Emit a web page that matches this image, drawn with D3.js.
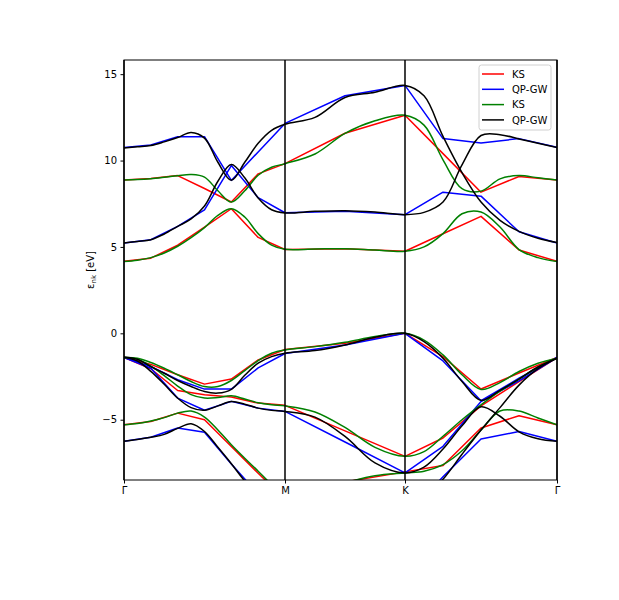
<!DOCTYPE html>
<html>
<head>
<meta charset="utf-8">
<script src="https://cdn.jsdelivr.net/npm/d3@7"></script>
<style>
  html, body { margin: 0; padding: 0; background: #fff; }
  svg { display: block; font-family: "DejaVu Sans", sans-serif; }
</style>
</head>
<body>
<svg id="chart" width="619" height="600"></svg>
<script>
// ---- k-path (Γ-M distance = 1) ----
const kCoarse = [0, 0.1667, 0.3333, 0.5, 0.6667, 0.8333, 1.0, 1.3727, 1.7453, 1.9814, 2.2174, 2.4535, 2.6894];
const kFine = [0, 0.0833, 0.1667, 0.25, 0.3333, 0.4167, 0.5, 0.5833, 0.6667, 0.75, 0.8333, 0.9167, 1.0,
               1.1863, 1.3727, 1.559, 1.7453, 1.8634, 1.9814, 2.0994, 2.2174, 2.3354, 2.4535, 2.5714, 2.6894];
const kLabels = ["Γ", "M", "K", "Γ"];
const kLabelPos = [0, 1.0, 1.7453, 2.6894];
const yTicks = [-5, 0, 5, 10, 15];

// ---- KS (coarse, red) ----
const ksC2 = [8.88, 8.96, 9.13, 8.38, 7.6, 9.23, 9.82, 11.58, 12.62, 10.4, 8.17, 9.08, 8.88];
const ksC1 = [4.17, 4.35, 5.1, 6.15, 7.21, 5.55, 4.85, 4.9, 4.75, 5.76, 6.77, 4.82, 4.17];
const ksV1 = [-1.4, -1.8, -2.4, -2.94, -2.65, -1.54, -0.94, -0.58, 0, -1.35, -3.22, -2.3, -1.4];
const ksV2 = [-1.4, -2.05, -3.31, -3.56, -3.69, -4.04, -4.17, -5.65, -7.12, -6.06, -4.2, -2.8, -1.4];
const ksV3 = [-5.29, -5.1, -4.62, -5.0, -6.55, -8.1, -9.6, -8.6, -8.02, -7.65, -5.48, -4.77, -5.29];

// ---- QP-GW (coarse, blue) ----
const gwC2 = [10.75, 10.9, 11.38, 11.38, 8.85, 10.5, 12.15, 13.75, 14.35, 11.27, 11.02, 11.27, 10.77];
const gwC1 = [5.23, 5.42, 6.19, 7.15, 9.71, 7.85, 6.98, 7.06, 6.87, 8.17, 7.94, 5.88, 5.23];
const gwV1 = [-1.4, -1.92, -2.69, -3.23, -3.23, -2.0, -1.17, -0.67, 0, -1.6, -3.9, -2.6, -1.4];
const gwV2 = [-1.4, -2.02, -3.75, -4.45, -3.94, -4.33, -4.52, -6.29, -8.08, -6.54, -3.95, -2.75, -1.4];
const gwV3 = [-6.25, -6.02, -5.48, -5.73, -7.56, -9.3, -10.5, -10.8, -10.7, -8.3, -6.12, -5.68, -6.25];

// ---- KS (interpolated, green) ----
const ksiC2 = [8.88, 8.9, 8.95, 9.03, 9.12, 9.19, 9.04, 8.25, 7.6, 8.25, 9.15, 9.61, 9.82, 10.38, 11.57, 12.3, 12.62, 12.05, 10.04, 8.37, 8.23, 8.94, 9.13, 9.0, 8.87];
const ksiC1 = [4.15, 4.23, 4.38, 4.65, 5.04, 5.54, 6.12, 6.83, 7.21, 6.73, 5.77, 5.1, 4.86, 4.88, 4.9, 4.82, 4.75, 5.0, 5.77, 6.92, 7.02, 6.15, 4.85, 4.38, 4.15];
const ksiV1 = [-1.4, -1.44, -1.69, -2.02, -2.4, -2.79, -3.08, -3.08, -2.73, -2.16, -1.58, -1.15, -0.96, -0.77, -0.52, -0.19, 0, -0.39, -1.25, -2.4, -3.25, -2.85, -2.21, -1.73, -1.44];
const ksiV2 = [-1.4, -1.5, -1.9, -2.45, -3.05, -3.55, -3.75, -3.72, -3.62, -3.8, -4.02, -4.14, -4.2, -4.55, -5.45, -6.6, -7.12, -6.85, -5.96, -5.0, -4.14, -3.35, -2.65, -1.95, -1.44];
const ksiV3 = [-5.29, -5.22, -5.08, -4.88, -4.62, -4.5, -4.85, -5.6, -6.45, -7.23, -7.98, -8.75, -9.4, -9.1, -8.65, -8.25, -8.08, -7.98, -7.6, -6.8, -5.6, -4.5, -4.5, -4.9, -5.29];

// ---- QP-GW (interpolated, black) ----
const gwiC2 = [10.73, 10.8, 10.87, 11.08, 11.33, 11.63, 11.3, 9.9, 8.86, 9.9, 11.0, 11.75, 12.1, 12.5, 13.65, 13.95, 14.35, 13.75, 11.4, 9.3, 7.6, 6.54, 5.9, 5.5, 5.25];
const gwiC1 = [5.23, 5.32, 5.42, 5.75, 6.19, 6.62, 7.37, 8.8, 9.77, 9.0, 7.83, 7.15, 6.97, 7.06, 7.1, 7.02, 6.87, 7.0, 7.6, 9.75, 11.45, 11.5, 11.25, 11.0, 10.75];
const gwiV1 = [-1.38, -1.5, -1.93, -2.31, -2.73, -3.08, -3.37, -3.46, -3.24, -2.43, -1.73, -1.35, -1.15, -1.0, -0.67, -0.23, 0, -0.48, -1.44, -2.79, -3.88, -3.3, -2.65, -1.95, -1.44];
const gwiV2 = [-1.38, -1.6, -2.2, -2.95, -3.75, -4.3, -4.45, -4.2, -3.95, -4.1, -4.33, -4.46, -4.52, -4.85, -5.97, -7.5, -8.08, -7.75, -6.7, -5.35, -4.25, -4.8, -5.7, -6.1, -6.25];
const gwiV3 = [-6.25, -6.15, -6.02, -5.85, -5.5, -5.23, -5.68, -6.6, -7.55, -8.55, -9.4, -10.1, -10.5, -10.8, -11.0, -10.8, -10.5, -9.5, -8.45, -7.0, -5.6, -4.3, -3.0, -2.05, -1.44];

const seriesNames = ["KS", "QP-GW", "KS", "QP-GW"];
const seriesColors = ["#ff0000", "#0000ff", "#008000", "#000000"];

// ---- build series ----
const series = [
  { k: kCoarse, bands: [ksC2, ksC1, ksV1, ksV2, ksV3], smooth: false },
  { k: kCoarse, bands: [gwC2, gwC1, gwV1, gwV2, gwV3], smooth: false },
  { k: kFine,   bands: [ksiC2, ksiC1, ksiV1, ksiV2, ksiV3], smooth: true },
  { k: kFine,   bands: [gwiC2, gwiC1, gwiV1, gwiV2, gwiV3], smooth: true }
];

const svg = d3.select("#chart");
const pL = 124, pR = 557, pT = 60, pB = 480;

const x = d3.scaleLinear().domain([0, 2.6894]).range([pL, pR]);
const y = d3.scaleLinear().domain([-8.49, 15.82]).range([pB, pT]);

svg.append("defs").append("clipPath").attr("id", "plotclip")
  .append("rect").attr("x", pL).attr("y", pT).attr("width", pR - pL).attr("height", pB - pT);

const plot = svg.append("g").attr("clip-path", "url(#plotclip)");

series.forEach((s, si) => {
  const line = d3.line()
    .x((d, i) => x(s.k[i]))
    .y(d => y(d))
    .curve(s.smooth ? d3.curveCatmullRom.alpha(0.5) : d3.curveLinear);
  s.bands.forEach(b => {
    plot.append("path")
      .attr("d", line(b))
      .attr("fill", "none")
      .attr("stroke", seriesColors[si])
      .attr("stroke-width", 1.5)
      .attr("stroke-linejoin", "round");
  });
});

// vertical high-symmetry lines
svg.append("g").selectAll("line").data(kLabelPos).join("line")
  .attr("x1", d => x(d)).attr("x2", d => x(d))
  .attr("y1", pT).attr("y2", pB)
  .attr("stroke", "#000").attr("stroke-width", 1.5);

// frame
svg.append("rect").attr("x", pL).attr("y", pT).attr("width", pR - pL).attr("height", pB - pT)
  .attr("fill", "none").attr("stroke", "#000").attr("stroke-width", 1);

// axes
const xAxis = d3.axisBottom(x).tickValues(kLabelPos).tickFormat((d, i) => kLabels[i]).tickSize(3.5).tickPadding(3.5);
const gx = svg.append("g").attr("transform", `translate(0,${pB})`).call(xAxis);
gx.select(".domain").remove();
gx.selectAll("text").attr("font-size", 10).attr("fill", "#000").attr("font-family", "DejaVu Sans, sans-serif");

const yAxis = d3.axisLeft(y).tickValues(yTicks).tickFormat(d => d < 0 ? "\u2212" + Math.abs(d) : d).tickSize(3.5).tickPadding(3.5);
const gy = svg.append("g").attr("transform", `translate(${pL},0)`).call(yAxis);
gy.select(".domain").remove();
gy.selectAll("text").attr("font-size", 10).attr("fill", "#000").attr("font-family", "DejaVu Sans, sans-serif");

// y label
const yl = svg.append("text")
  .attr("transform", `translate(94,270) rotate(-90)`)
  .attr("text-anchor", "middle")
  .attr("font-size", 10)
  .attr("fill", "#000");
yl.append("tspan").text("\u03b5");
yl.append("tspan").attr("font-size", 7).attr("dy", 2).text("nk");
yl.append("tspan").attr("dy", -2).text(" [eV]");

// legend
const lg = svg.append("g").attr("transform", "translate(479,65)");
lg.append("rect").attr("width", 72).attr("height", 65).attr("rx", 2.5)
  .attr("fill", "#fff").attr("fill-opacity", 0.8).attr("stroke", "#d0d0d0").attr("stroke-width", 1);
seriesNames.forEach((n, i) => {
  const yy = 9 + i * 15.3;
  lg.append("line").attr("x1", 3).attr("x2", 25).attr("y1", yy).attr("y2", yy)
    .attr("stroke", seriesColors[i]).attr("stroke-width", 1.5);
  lg.append("text").attr("x", 33).attr("y", yy + 3.6).attr("font-size", 10).attr("fill", "#000").text(n);
});
</script>
</body>
</html>
